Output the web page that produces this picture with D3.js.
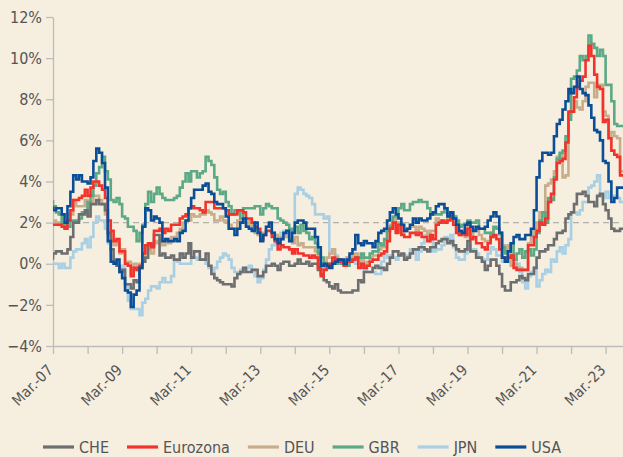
<!DOCTYPE html>
<html>
<head>
<meta charset="utf-8">
<script src="https://cdn.jsdelivr.net/npm/d3@7"></script>
<style>
  html, body { margin: 0; padding: 0; background: #f6eedf; }
  svg { display: block; }
  text { font-family: "DejaVu Sans Condensed", "DejaVu Sans", sans-serif; fill: #555; }
</style>
</head>
<body>
<svg id="chart" width="623" height="457"></svg>
<script>
// ---- data (monthly y/y inflation, %, Mar 2007 .. Sep 2023) ----
const seriesNames = ["CHE", "Eurozona", "DEU", "GBR", "JPN", "USA"];
const seriesColors = ["#6d6e70", "#f2322b", "#c9ad8b", "#5ca985", "#a8cfe3", "#0b4e98"];
const startMonth = [2007, 2]; // March 2007
const yTickValues = [-4, -2, 0, 2, 4, 6, 8, 10, 12];
const xTickYears = d3.range(2007, 2024);
const xLabelYears = [2007, 2009, 2011, 2013, 2015, 2017, 2019, 2021, 2023];
const targetLine = 2;

const CHE = [
  0.2, 0.5, 0.6, 0.6, 0.5, 0.5, 0.7, 1.3, 2.0, 2.0,
  2.4, 2.4, 2.6, 2.3, 2.9, 2.9, 3.1, 2.9, 2.9, 2.6, 1.5, 0.7,
  0.1, -0.1, -0.4, -0.3, -1.0, -1.0, -1.2, -0.8, -0.9, -0.2, 0.1, 0.3,
  1.0, 0.9, 1.4, 1.4, 0.4, 0.5, 0.3, 0.3, 0.4, 0.2, 0.2, 0.5,
  0.3, 0.5, 1.0, 0.3, 0.6, 0.6, 0.2, 0.2, 0.5, -0.1, -0.5, -0.7,
  -0.8, -0.9, -1.0, -1.0, -1.0, -1.1, -0.7, -0.5, -0.4, -0.2, -0.4, -0.4,
  -0.3, -0.3, -0.6, -0.6, -0.4, -0.1, -0.1, 0.0, -0.1, -0.3, 0.0, 0.1,
  0.1, -0.1, -0.1, 0.0, 0.2, 0.0, 0.0, 0.1, -0.1, 0.0, 0.0, -0.3,
  -0.5, -0.8, -0.9, -1.1, -1.2, -1.0, -1.3, -1.4, -1.4, -1.4, -1.4, -1.3,
  -1.3, -0.8, -0.9, -0.4, -0.4, -0.4, -0.2, -0.1, -0.2, -0.2, -0.3, 0.0,
  0.3, 0.6, 0.6, 0.4, 0.5, 0.2, 0.3, 0.5, 0.7, 0.7, 0.8, 0.8,
  0.7, 0.6, 0.8, 0.8, 1.0, 1.1, 1.2, 1.2, 1.0, 1.1, 0.9, 0.7,
  0.6, 0.6, 0.7, 1.1, 0.6, 0.6, 0.3, 0.3, 0.1, -0.3, -0.1, 0.2,
  0.2, -0.1, -0.5, -1.1, -1.3, -1.3, -0.9, -0.9, -0.8, -0.6, -0.7, -0.8,
  -0.5, -0.5, -0.2, 0.3, 0.6, 0.6, 0.7, 0.9, 0.9, 1.2, 1.5, 1.5,
  1.6, 2.2, 2.4, 2.5, 2.9, 3.4, 3.4, 3.5, 3.3, 3.0, 3.0, 2.8,
  3.3, 3.4, 2.9, 2.6, 2.2, 1.7, 1.6, 1.6, 1.7
];
const Eurozona = [
  1.9, 1.9, 1.9, 1.9, 1.8, 1.7, 2.1, 2.6, 3.1, 3.1,
  3.2, 3.3, 3.6, 3.3, 3.7, 4.0, 4.0, 3.8, 3.6, 3.2, 2.1, 1.6,
  1.1, 1.2, 0.6, 0.6, 0.0, -0.1, -0.6, -0.2, -0.3, -0.1, 0.5, 0.9,
  1.0, 0.8, 1.6, 1.6, 1.7, 1.5, 1.7, 1.6, 1.9, 1.9, 1.9, 2.2,
  2.3, 2.4, 2.7, 2.8, 2.7, 2.7, 2.6, 2.5, 3.0, 3.0, 3.0, 2.7,
  2.7, 2.7, 2.7, 2.6, 2.4, 2.4, 2.4, 2.6, 2.6, 2.5, 2.2, 2.2,
  2.0, 1.8, 1.7, 1.2, 1.4, 1.6, 1.6, 1.3, 1.1, 0.7, 0.9, 0.8,
  0.8, 0.7, 0.5, 0.7, 0.5, 0.5, 0.4, 0.4, 0.3, 0.4, 0.3, -0.2,
  -0.6, -0.3, -0.1, 0.0, 0.3, 0.2, 0.2, 0.1, -0.1, 0.1, 0.1, 0.2,
  0.3, -0.2, 0.0, -0.2, -0.1, 0.1, 0.2, 0.2, 0.4, 0.5, 0.6, 1.1,
  1.7, 2.0, 1.5, 1.9, 1.4, 1.3, 1.3, 1.5, 1.5, 1.4, 1.5, 1.3,
  1.3, 1.1, 1.4, 1.2, 1.9, 2.0, 2.1, 2.0, 2.1, 2.2, 1.9, 1.5,
  1.4, 1.5, 1.4, 1.7, 1.2, 1.3, 1.0, 1.0, 0.8, 0.7, 1.0, 1.3,
  1.4, 1.2, 0.7, 0.3, 0.1, 0.3, 0.4, -0.2, -0.3, -0.3, -0.3, -0.3,
  0.9, 0.9, 1.3, 1.6, 2.0, 1.9, 2.2, 3.0, 3.4, 4.1, 4.9, 5.0,
  5.1, 5.9, 7.4, 7.4, 8.1, 8.6, 8.9, 9.1, 9.9, 10.6, 10.1, 9.2,
  8.6, 8.5, 6.9, 7.0, 6.1, 5.5, 5.3, 5.2, 4.3
];
const DEU = [
  2.0, 2.1, 2.0, 1.9, 2.0, 1.9, 2.4, 2.4, 3.1, 2.8,
  2.8, 2.8, 3.1, 2.4, 3.0, 3.3, 3.3, 3.1, 2.9, 2.4, 1.4, 1.1,
  0.9, 1.0, 0.5, 0.7, 0.0, 0.1, -0.5, 0.0, -0.3, 0.0, 0.4, 0.9,
  0.7, 0.5, 1.1, 1.0, 1.2, 0.9, 1.2, 1.0, 1.3, 1.3, 1.5, 1.7,
  2.0, 2.1, 2.1, 2.4, 2.3, 2.3, 2.4, 2.4, 2.6, 2.5, 2.4, 2.1,
  2.1, 2.3, 2.1, 2.0, 1.9, 1.7, 1.7, 2.1, 2.0, 2.0, 1.9, 2.1,
  1.7, 1.5, 1.4, 1.2, 1.5, 1.8, 1.9, 1.5, 1.4, 1.2, 1.3, 1.4,
  1.3, 1.2, 1.0, 1.3, 0.9, 1.0, 0.8, 0.8, 0.8, 0.8, 0.6, 0.2,
  -0.3, 0.1, 0.3, 0.5, 0.7, 0.3, 0.2, 0.2, 0.0, 0.3, 0.4, 0.3,
  0.5, 0.0, 0.3, -0.1, 0.1, 0.3, 0.4, 0.4, 0.7, 0.8, 0.8, 1.7,
  1.9, 2.2, 1.6, 2.0, 1.5, 1.6, 1.7, 1.8, 1.8, 1.6, 1.8, 1.7,
  1.6, 1.4, 1.6, 1.6, 2.2, 2.1, 2.0, 2.0, 2.3, 2.5, 2.3, 1.7,
  1.4, 1.5, 1.3, 2.0, 1.4, 1.6, 1.7, 1.4, 1.2, 1.1, 1.1, 1.5,
  1.7, 1.7, 1.4, 0.9, 0.6, 0.9, -0.1, 0.0, -0.2, -0.2, -0.3, -0.3,
  1.0, 1.3, 1.7, 2.0, 2.5, 2.3, 3.8, 3.9, 4.1, 4.5, 5.2, 5.3,
  4.2, 4.3, 7.3, 7.4, 7.9, 7.6, 7.5, 7.9, 8.6, 8.8, 8.8, 8.1,
  8.7, 8.7, 7.4, 7.2, 6.1, 6.4, 6.2, 6.1, 4.5
];
const GBR = [
  3.1, 2.8, 2.5, 2.4, 1.9, 1.8, 1.8, 2.1, 2.1, 2.1,
  2.2, 2.5, 2.5, 3.0, 3.3, 3.8, 4.4, 4.7, 5.2, 4.5, 4.1, 3.1,
  3.0, 3.2, 2.9, 2.3, 2.2, 1.8, 1.8, 1.6, 1.1, 1.5, 1.9, 2.9,
  3.5, 3.0, 3.4, 3.7, 3.4, 3.2, 3.1, 3.1, 3.1, 3.2, 3.3, 3.7,
  4.0, 4.4, 4.0, 4.5, 4.5, 4.2, 4.4, 4.5, 5.2, 5.0, 4.8, 4.2,
  3.6, 3.4, 3.5, 3.0, 2.8, 2.4, 2.6, 2.5, 2.2, 2.7, 2.7, 2.7,
  2.7, 2.8, 2.8, 2.4, 2.7, 2.9, 2.8, 2.7, 2.7, 2.2, 2.1, 2.0,
  1.9, 1.7, 1.6, 1.8, 1.5, 1.9, 1.6, 1.5, 1.2, 1.3, 1.0, 0.5,
  0.3, 0.0, 0.0, -0.1, 0.1, 0.0, 0.1, 0.0, -0.1, -0.1, 0.1, 0.2,
  0.3, 0.3, 0.5, 0.3, 0.3, 0.5, 0.6, 0.6, 1.0, 0.9, 1.2, 1.6,
  1.8, 2.3, 2.3, 2.7, 2.9, 2.6, 2.6, 2.9, 3.0, 3.0, 3.1, 3.0,
  3.0, 2.7, 2.5, 2.4, 2.4, 2.4, 2.5, 2.7, 2.4, 2.4, 2.3, 2.1,
  1.8, 1.9, 1.9, 2.1, 2.0, 2.0, 2.1, 1.7, 1.7, 1.5, 1.5, 1.3,
  1.8, 1.7, 1.5, 0.8, 0.5, 0.6, 1.0, 0.2, 0.5, 0.7, 0.3, 0.6,
  0.7, 0.4, 0.7, 1.5, 2.1, 2.5, 2.0, 3.2, 3.1, 4.2, 5.1, 5.4,
  5.5, 6.2, 7.0, 9.0, 9.1, 9.4, 10.1, 9.9, 10.1, 11.1, 10.7, 10.5,
  10.1, 10.4, 10.1, 8.7, 8.7, 7.9, 6.8, 6.7, 6.7
];
const JPN = [
  -0.1, 0.0, 0.0, -0.2, 0.0, -0.2, -0.2, 0.3, 0.6, 0.7,
  0.7, 1.0, 1.2, 0.8, 1.3, 2.0, 2.3, 2.1, 2.1, 1.7, 1.0, 0.4,
  0.0, -0.1, -0.3, -0.1, -1.1, -1.8, -2.2, -2.2, -2.2, -2.5, -1.9, -1.7,
  -1.3, -1.1, -1.1, -1.2, -0.9, -0.7, -0.9, -0.9, -0.6, 0.2, 0.1, 0.0,
  0.0, 0.0, 0.0, 0.3, 0.3, 0.2, 0.2, 0.2, 0.0, -0.2, -0.5, -0.2,
  0.1, 0.3, 0.5, 0.4, 0.2, -0.2, -0.4, -0.5, -0.3, -0.4, -0.2, -0.1,
  -0.3, -0.6, -0.9, -0.7, -0.3, 0.2, 0.7, 0.9, 1.1, 1.1, 1.5, 1.6,
  1.4, 1.5, 1.6, 3.4, 3.7, 3.6, 3.4, 3.3, 3.2, 2.9, 2.4, 2.4,
  2.4, 2.2, 2.3, 0.6, 0.5, 0.4, 0.2, 0.2, 0.0, 0.3, 0.3, 0.2,
  0.0, 0.3, -0.1, -0.3, -0.4, -0.4, -0.4, -0.5, -0.5, 0.1, 0.5, 0.3,
  0.4, 0.3, 0.2, 0.4, 0.4, 0.4, 0.4, 0.7, 0.7, 0.2, 0.6, 1.0,
  1.4, 1.5, 1.1, 0.6, 0.7, 0.7, 0.9, 1.3, 1.2, 1.4, 0.8, 0.3,
  0.2, 0.2, 0.5, 0.9, 0.7, 0.7, 0.5, 0.3, 0.2, 0.2, 0.5, 0.8,
  0.7, 0.4, 0.4, 0.1, 0.1, 0.1, 0.3, 0.2, 0.0, -0.4, -0.9, -1.2,
  -0.6, -0.4, -0.2, -1.1, -0.8, -0.5, -0.3, -0.4, 0.2, 0.1, 0.6, 0.8,
  0.5, 0.9, 1.2, 2.5, 2.5, 2.4, 2.6, 3.0, 3.0, 3.7, 3.8, 4.0,
  4.3, 3.3, 3.2, 3.5, 3.2, 3.3, 3.3, 3.2, 3.0
];
const USA = [
  2.8, 2.6, 2.7, 2.7, 2.4, 2.0, 2.8, 3.5, 4.3, 4.1,
  4.3, 4.0, 4.0, 3.9, 4.2, 5.0, 5.6, 5.4, 4.9, 3.7, 1.1, 0.1,
  0.0, 0.2, -0.4, -0.7, -1.3, -1.4, -2.1, -1.5, -1.3, -0.2, 1.8, 2.7,
  2.6, 2.1, 2.3, 2.2, 2.0, 1.1, 1.2, 1.1, 1.1, 1.2, 1.1, 1.5,
  1.6, 2.1, 2.7, 3.2, 3.6, 3.6, 3.6, 3.8, 3.9, 3.5, 3.4, 3.0,
  2.9, 2.9, 2.7, 2.3, 1.7, 1.7, 1.4, 1.7, 2.0, 2.2, 1.8, 1.7,
  1.6, 2.0, 1.5, 1.1, 1.4, 1.8, 2.0, 1.5, 1.2, 1.0, 1.2, 1.5,
  1.6, 1.1, 1.5, 2.0, 2.1, 2.1, 2.0, 1.7, 1.7, 1.7, 1.3, 0.8,
  -0.1, 0.0, -0.1, -0.2, 0.0, 0.1, 0.2, 0.2, 0.0, 0.2, 0.5, 0.7,
  1.4, 1.0, 0.9, 1.1, 1.0, 1.0, 0.8, 1.1, 1.5, 1.6, 1.7, 2.1,
  2.5, 2.7, 2.4, 2.2, 1.9, 1.6, 1.7, 1.9, 2.2, 2.0, 2.2, 2.1,
  2.1, 2.2, 2.4, 2.5, 2.8, 2.9, 2.9, 2.7, 2.3, 2.5, 2.2, 1.9,
  1.6, 1.5, 1.9, 2.0, 1.8, 1.6, 1.8, 1.7, 1.7, 1.8, 2.1, 2.3,
  2.5, 2.3, 1.5, 0.3, 0.1, 0.6, 1.0, 1.3, 1.4, 1.2, 1.2, 1.4,
  1.4, 1.7, 2.6, 4.2, 5.0, 5.4, 5.4, 5.3, 5.4, 6.2, 6.8, 7.0,
  7.5, 7.9, 8.5, 8.3, 8.6, 9.1, 8.5, 8.3, 8.2, 7.7, 7.1, 6.5,
  6.4, 6.0, 5.0, 4.9, 4.0, 3.0, 3.2, 3.7, 3.7
];
const seriesValues = [CHE, Eurozona, DEU, GBR, JPN, USA];
const drawOrder = [4, 2, 3, 0, 1, 5]; // JPN, DEU, GBR, CHE, Eurozona, USA on top

// ---- chart ----
(function () {
  const svg = d3.select("#chart");
  const mL = 53, mR = 623, mT = 17, mB = 346;

  const t0 = new Date(startMonth[0], startMonth[1], 1);
  const nMonths = CHE.length;
  const dates = d3.range(nMonths).map(i => d3.timeMonth.offset(t0, i));

  const x = d3.scaleTime()
    .domain([t0, dates[nMonths - 1]])
    .range([mL, mR]);
  const y = d3.scaleLinear().domain([-4, 12]).range([mB, mT]);

  svg.append("defs").append("clipPath").attr("id", "clip")
    .append("rect").attr("x", mL).attr("y", 0).attr("width", mR - mL).attr("height", mB);

  const axisColor = "#bcbcbc";

  // y axis
  const yAxis = svg.append("g")
    .attr("transform", `translate(${mL},0)`)
    .call(d3.axisLeft(y).tickValues(yTickValues).tickSize(7).tickSizeOuter(0).tickPadding(4)
      .tickFormat(d => (d < 0 ? "\u2212" : "") + Math.abs(d) + "%"));
  yAxis.select(".domain").attr("stroke", axisColor).attr("stroke-width", 1.3);
  yAxis.selectAll(".tick line").attr("stroke", axisColor).attr("stroke-width", 1.3);
  yAxis.selectAll(".tick text").style("font-size", "16px").attr("fill", "#555");

  // x axis
  const xTicks = xTickYears.map(yr => new Date(yr, 2, 1));
  const xAxis = svg.append("g")
    .attr("transform", `translate(0,${mB})`)
    .call(d3.axisBottom(x).tickValues(xTicks).tickSize(8).tickSizeOuter(0).tickFormat(""));
  xAxis.select(".domain").attr("stroke", axisColor).attr("stroke-width", 1.3);
  xAxis.selectAll(".tick line").attr("stroke", axisColor).attr("stroke-width", 1.3);

  svg.append("g").selectAll("text")
    .data(xLabelYears)
    .join("text")
    .attr("transform", d => `translate(${x(new Date(d, 2, 1)) + 1},${mB + 25}) rotate(-45)`)
    .attr("text-anchor", "end")
    .style("font-size", "15px")
    .attr("fill", "#555")
    .text(d => "Mar.-" + String(d % 100).padStart(2, "0"));

  // 2% reference line
  svg.append("line")
    .attr("x1", mL).attr("x2", mR)
    .attr("y1", y(targetLine)).attr("y2", y(targetLine))
    .attr("stroke", "#b4b0aa").attr("stroke-width", 1.3)
    .attr("stroke-dasharray", "6,4");

  // series lines
  const line = d3.line()
    .x((d, i) => x(dates[i]))
    .y(d => y(d))
    .curve(d3.curveStepBefore);

  const gLines = svg.append("g").attr("clip-path", "url(#clip)");
  drawOrder.forEach(k => {
    gLines.append("path")
      .datum(seriesValues[k])
      .attr("fill", "none")
      .attr("stroke", seriesColors[k])
      .attr("stroke-width", 2.6)
      .attr("stroke-linejoin", "miter")
      .attr("d", line);
  });

  // legend
  const legend = svg.append("g").attr("transform", `translate(0,447)`);
  let lx = 43;
  seriesNames.forEach((name, k) => {
    legend.append("line")
      .attr("x1", lx).attr("x2", lx + 31).attr("y1", 0).attr("y2", 0)
      .attr("stroke", seriesColors[k]).attr("stroke-width", 3.2);
    const t = legend.append("text")
      .attr("x", lx + 36).attr("y", 0).attr("dy", "0.36em")
      .style("font-size", "16px").attr("fill", "#555")
      .text(name);
    lx += 36 + t.node().getComputedTextLength() + 18;
  });
})();
</script>
</body>
</html>
